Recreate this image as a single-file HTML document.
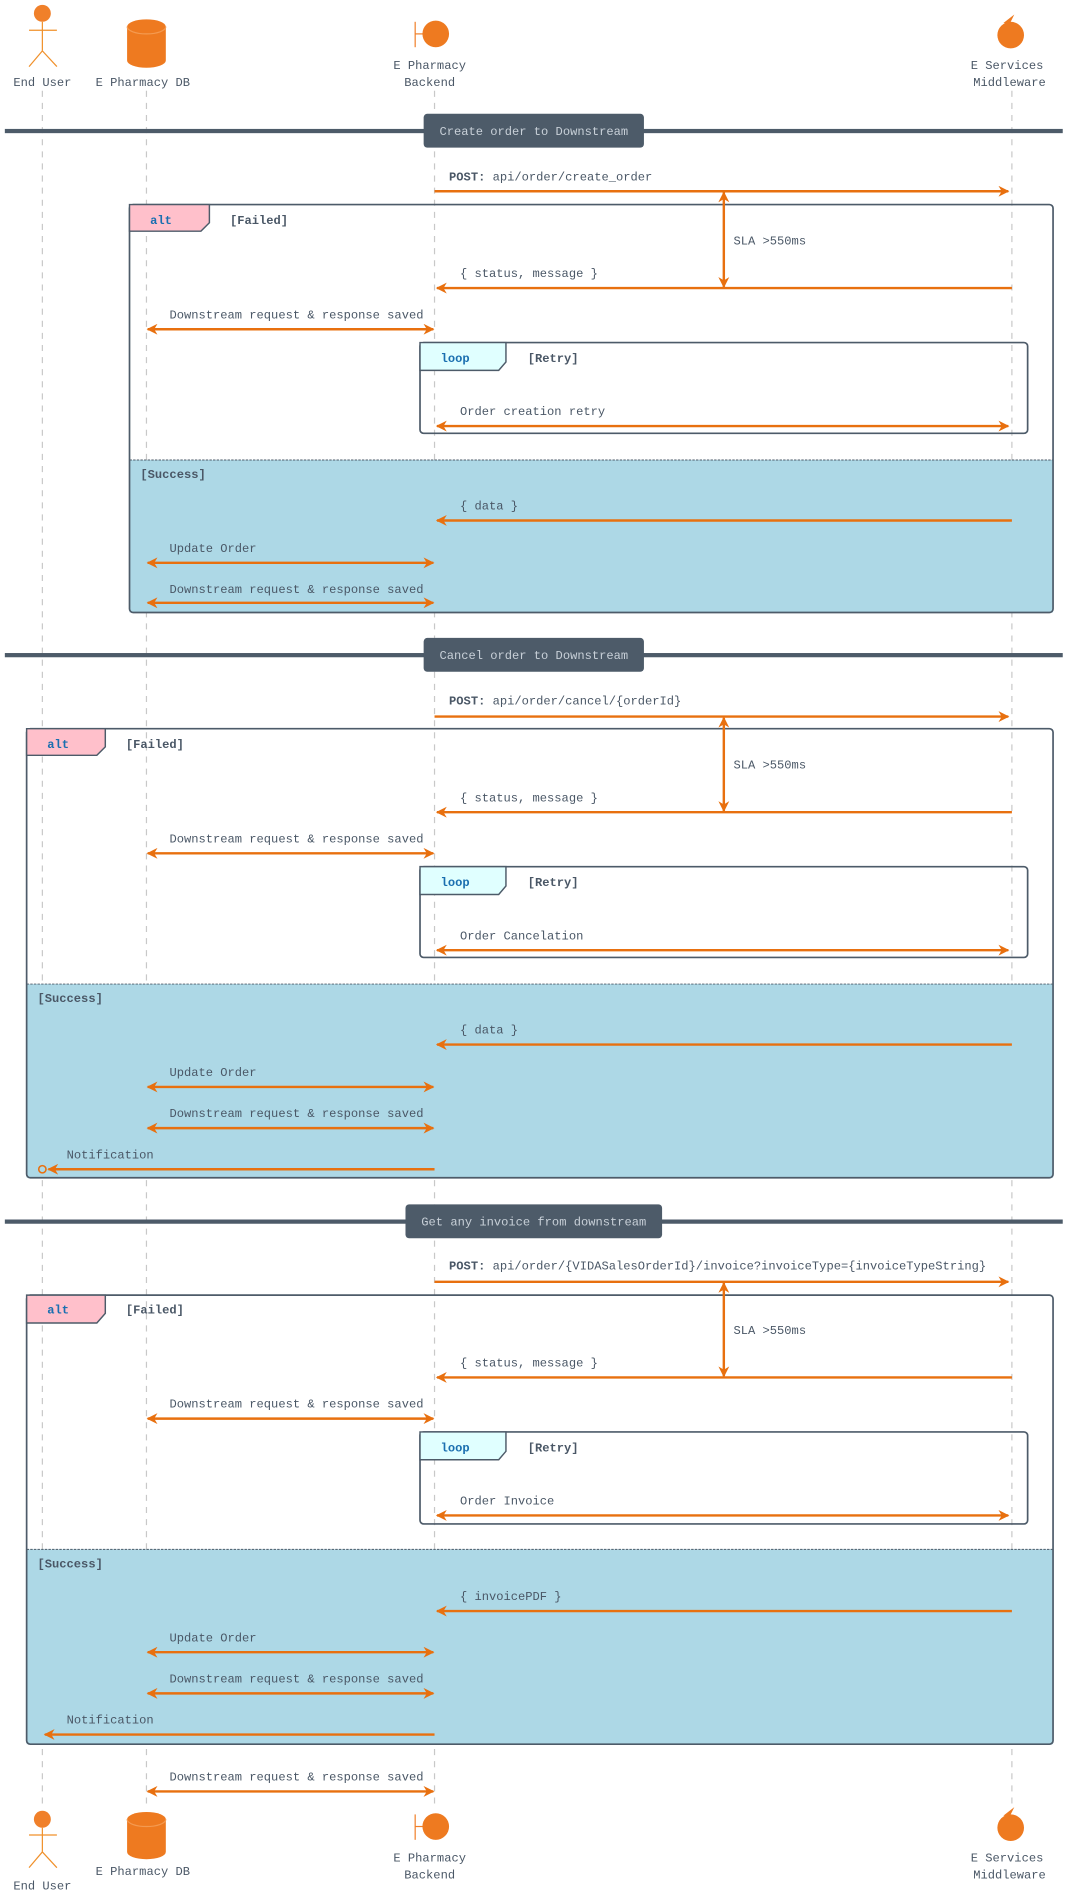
<!DOCTYPE html>
<html><head><meta charset="utf-8"><style>
html,body{margin:0;padding:0;background:#fff;}
svg{display:block;}
text{font-family:"Liberation Mono","DejaVu Sans Mono",monospace;font-size:10px;fill:#4a5766;}
.b{font-weight:bold;}
.ar{stroke:#e8700f;stroke-width:2;fill:none;}
.fr{fill:none;stroke:#4d5b69;stroke-width:1.4;}
.ll{stroke:#c8c8c8;stroke-width:1;stroke-dasharray:5,5;}
</style></head><body>
<svg width="1070" height="1900" viewBox="0 0 884 1569.7" xmlns="http://www.w3.org/2000/svg">
<defs>
<marker id="ah" viewBox="0 0 10 10" refX="9" refY="5" markerWidth="9" markerHeight="9" orient="auto-start-reverse" markerUnits="userSpaceOnUse">
<path d="M0,0 L10,5 L0,10 L3,5 z" fill="#e8700f"/>
</marker>
</defs>
<!-- lifelines -->
<line class="ll" x1="35" y1="75" x2="35" y2="1495"/>
<line class="ll" x1="121" y1="75" x2="121" y2="1495"/>
<line class="ll" x1="359" y1="75" x2="359" y2="1495"/>
<line class="ll" x1="836" y1="75" x2="836" y2="1495"/>

<!-- participants top -->
<circle cx="35" cy="11" r="7" fill="#f0802a"/>
<g stroke="#f0902a" stroke-width="1" fill="none"><line x1="35" y1="18" x2="35" y2="42"/><line x1="24" y1="25" x2="47" y2="25"/><line x1="35" y1="42" x2="24" y2="55"/><line x1="35" y1="42" x2="47" y2="55"/></g>
<text x="35" y="71" text-anchor="middle">End User</text>
<path d="M105,22 A16,6 0 0 1 137,22 L137,50 A16,6 0 0 1 105,50 Z" fill="#ee7a20"/>
<path d="M105,22 A16,6 0 0 0 137,22" fill="none" stroke="#f49a50" stroke-width="1"/>
<text x="118" y="71" text-anchor="middle">E Pharmacy DB</text>
<line x1="343" y1="18" x2="343" y2="39" stroke="#f0802a" stroke-width="1"/>
<line x1="343" y1="28" x2="350" y2="28" stroke="#f0802a" stroke-width="1"/>
<ellipse cx="360" cy="28" rx="11" ry="11" fill="#ee7a20"/>
<text x="355" y="57" text-anchor="middle">E Pharmacy</text>
<text x="355" y="71" text-anchor="middle">Backend</text>
<circle cx="835" cy="29" r="11" fill="#ee7a20"/>
<path d="M829,19 L838,12 L834,20 Z" fill="#ee7a20"/>
<text x="832" y="57" text-anchor="middle">E Services</text>
<text x="834" y="71" text-anchor="middle">Middleware</text>

<!-- ===== Section 1 ===== -->
<rect x="4" y="106.5" width="874" height="3.5" fill="#4d5b69"/>
<rect x="350" y="94" width="182" height="28" rx="3" fill="#4d5b69"/>
<text x="441" y="111.5" text-anchor="middle" style="fill:#c8d0d8">Create order to Downstream</text>

<text x="371" y="149"><tspan class="b">POST:</tspan> api/order/create_order</text>
<line class="ar" x1="359" y1="158" x2="833" y2="158" marker-end="url(#ah)"/>

<rect x="107" y="380" width="763" height="126" fill="#add8e6"/>
<line x1="107" y1="380" x2="870" y2="380" stroke="#4d5b69" stroke-width="0.8" stroke-dasharray="2,1"/>
<rect class="fr" x="107" y="169" width="763" height="337" rx="3"/>
<path d="M107,169 L173,169 L173,184 L166,191 L107,191 Z" fill="#ffc0cb" stroke="#4d5b69" stroke-width="1.2"/>
<text x="124" y="185" class="b" style="fill:#1a6fb0">alt</text>
<text x="190" y="185" class="b">[Failed]</text>
<line class="ar" x1="598" y1="159" x2="598" y2="237" marker-start="url(#ah)" marker-end="url(#ah)"/>
<text x="606" y="202">SLA &gt;550ms</text>
<text x="380" y="229">{ status, message }</text>
<line class="ar" x1="836" y1="238" x2="361" y2="238" marker-end="url(#ah)"/>
<text x="140" y="263">Downstream request &amp; response saved</text>
<line class="ar" x1="122" y1="272" x2="358" y2="272" marker-start="url(#ah)" marker-end="url(#ah)"/>
<rect class="fr" x="347" y="283" width="502" height="75" rx="3"/>
<path d="M347,283 L418,283 L418,299 L412,306 L347,306 Z" fill="#e0ffff" stroke="#4d5b69" stroke-width="1.2"/>
<text x="364" y="299" class="b" style="fill:#1a6fb0">loop</text>
<text x="436" y="299" class="b">[Retry]</text>
<text x="380" y="343">Order creation retry</text>
<line class="ar" x1="361" y1="352" x2="833" y2="352" marker-start="url(#ah)" marker-end="url(#ah)"/>
<text x="116" y="395" class="b">[Success]</text>
<text x="380" y="421">{ data }</text>
<line class="ar" x1="836" y1="430" x2="361" y2="430" marker-end="url(#ah)"/>
<text x="140" y="456">Update Order</text>
<line class="ar" x1="122" y1="465" x2="358" y2="465" marker-start="url(#ah)" marker-end="url(#ah)"/>
<text x="140" y="490">Downstream request &amp; response saved</text>
<line class="ar" x1="122" y1="498" x2="358" y2="498" marker-start="url(#ah)" marker-end="url(#ah)"/>

<!-- ===== Section 2 ===== -->
<rect x="4" y="539.5" width="874" height="3.5" fill="#4d5b69"/>
<rect x="350" y="527" width="182" height="28" rx="3" fill="#4d5b69"/>
<text x="441" y="544.5" text-anchor="middle" style="fill:#c8d0d8">Cancel order to Downstream</text>

<text x="371" y="582"><tspan class="b">POST:</tspan> api/order/cancel/{orderId}</text>
<line class="ar" x1="359" y1="592" x2="833" y2="592" marker-end="url(#ah)"/>

<rect x="22" y="813" width="848" height="160" fill="#add8e6"/>
<line x1="22" y1="813" x2="870" y2="813" stroke="#4d5b69" stroke-width="0.8" stroke-dasharray="2,1"/>
<rect class="fr" x="22" y="602" width="848" height="371" rx="3"/>
<path d="M22,602 L87,602 L87,617 L80,624 L22,624 Z" fill="#ffc0cb" stroke="#4d5b69" stroke-width="1.2"/>
<text x="39" y="618" class="b" style="fill:#1a6fb0">alt</text>
<text x="104" y="618" class="b">[Failed]</text>
<line class="ar" x1="598" y1="593" x2="598" y2="670" marker-start="url(#ah)" marker-end="url(#ah)"/>
<text x="606" y="635">SLA &gt;550ms</text>
<text x="380" y="662">{ status, message }</text>
<line class="ar" x1="836" y1="671" x2="361" y2="671" marker-end="url(#ah)"/>
<text x="140" y="696">Downstream request &amp; response saved</text>
<line class="ar" x1="122" y1="705" x2="358" y2="705" marker-start="url(#ah)" marker-end="url(#ah)"/>
<rect class="fr" x="347" y="716" width="502" height="75" rx="3"/>
<path d="M347,716 L418,716 L418,732 L412,739 L347,739 Z" fill="#e0ffff" stroke="#4d5b69" stroke-width="1.2"/>
<text x="364" y="732" class="b" style="fill:#1a6fb0">loop</text>
<text x="436" y="732" class="b">[Retry]</text>
<text x="380" y="776">Order Cancelation</text>
<line class="ar" x1="361" y1="785" x2="833" y2="785" marker-start="url(#ah)" marker-end="url(#ah)"/>
<text x="31" y="828" class="b">[Success]</text>
<text x="380" y="854">{ data }</text>
<line class="ar" x1="836" y1="863" x2="361" y2="863" marker-end="url(#ah)"/>
<text x="140" y="889">Update Order</text>
<line class="ar" x1="122" y1="898" x2="358" y2="898" marker-start="url(#ah)" marker-end="url(#ah)"/>
<text x="140" y="923">Downstream request &amp; response saved</text>
<line class="ar" x1="122" y1="932" x2="358" y2="932" marker-start="url(#ah)" marker-end="url(#ah)"/>
<text x="55" y="957">Notification</text>
<line class="ar" x1="359" y1="966" x2="40" y2="966" marker-end="url(#ah)"/>
<circle cx="35" cy="966" r="3" fill="none" stroke="#e8700f" stroke-width="1.3"/>

<!-- ===== Section 3 ===== -->
<rect x="4" y="1007.5" width="874" height="3.5" fill="#4d5b69"/>
<rect x="335" y="995" width="212" height="28" rx="3" fill="#4d5b69"/>
<text x="441" y="1012.5" text-anchor="middle" style="fill:#c8d0d8">Get any invoice from downstream</text>

<text x="371" y="1049"><tspan class="b">POST:</tspan> api/order/{VIDASalesOrderId}/invoice?invoiceType={invoiceTypeString}</text>
<line class="ar" x1="359" y1="1059" x2="833" y2="1059" marker-end="url(#ah)"/>

<rect x="22" y="1280" width="848" height="161" fill="#add8e6"/>
<line x1="22" y1="1280" x2="870" y2="1280" stroke="#4d5b69" stroke-width="0.8" stroke-dasharray="2,1"/>
<rect class="fr" x="22" y="1070" width="848" height="371" rx="3"/>
<path d="M22,1070 L87,1070 L87,1085 L80,1093 L22,1093 Z" fill="#ffc0cb" stroke="#4d5b69" stroke-width="1.2"/>
<text x="39" y="1085" class="b" style="fill:#1a6fb0">alt</text>
<text x="104" y="1085" class="b">[Failed]</text>
<line class="ar" x1="598" y1="1060" x2="598" y2="1137" marker-start="url(#ah)" marker-end="url(#ah)"/>
<text x="606" y="1102">SLA &gt;550ms</text>
<text x="380" y="1129">{ status, message }</text>
<line class="ar" x1="836" y1="1138" x2="361" y2="1138" marker-end="url(#ah)"/>
<text x="140" y="1163">Downstream request &amp; response saved</text>
<line class="ar" x1="122" y1="1172" x2="358" y2="1172" marker-start="url(#ah)" marker-end="url(#ah)"/>
<rect class="fr" x="347" y="1183" width="502" height="76" rx="3"/>
<path d="M347,1183 L418,1183 L418,1199 L412,1206 L347,1206 Z" fill="#e0ffff" stroke="#4d5b69" stroke-width="1.2"/>
<text x="364" y="1199" class="b" style="fill:#1a6fb0">loop</text>
<text x="436" y="1199" class="b">[Retry]</text>
<text x="380" y="1243">Order Invoice</text>
<line class="ar" x1="361" y1="1252" x2="833" y2="1252" marker-start="url(#ah)" marker-end="url(#ah)"/>
<text x="31" y="1295" class="b">[Success]</text>
<text x="380" y="1322">{ invoicePDF }</text>
<line class="ar" x1="836" y1="1331" x2="361" y2="1331" marker-end="url(#ah)"/>
<text x="140" y="1356">Update Order</text>
<line class="ar" x1="122" y1="1365" x2="358" y2="1365" marker-start="url(#ah)" marker-end="url(#ah)"/>
<text x="140" y="1390">Downstream request &amp; response saved</text>
<line class="ar" x1="122" y1="1399" x2="358" y2="1399" marker-start="url(#ah)" marker-end="url(#ah)"/>
<text x="55" y="1424">Notification</text>
<line class="ar" x1="359" y1="1433" x2="37" y2="1433" marker-end="url(#ah)"/>

<text x="140" y="1471">Downstream request &amp; response saved</text>
<line class="ar" x1="122" y1="1480" x2="358" y2="1480" marker-start="url(#ah)" marker-end="url(#ah)"/>

<!-- participants bottom -->
<circle cx="35" cy="1503" r="7" fill="#f0802a"/>
<g stroke="#f0902a" stroke-width="1" fill="none"><line x1="35" y1="1510" x2="35" y2="1530"/><line x1="24" y1="1516" x2="47" y2="1516"/><line x1="35" y1="1530" x2="24" y2="1543"/><line x1="35" y1="1530" x2="47" y2="1543"/></g>
<text x="35" y="1561" text-anchor="middle">End User</text>
<path d="M105,1503 A16,6 0 0 1 137,1503 L137,1530 A16,6 0 0 1 105,1530 Z" fill="#ee7a20"/>
<path d="M105,1503 A16,6 0 0 0 137,1503" fill="none" stroke="#f49a50" stroke-width="1"/>
<text x="118" y="1549" text-anchor="middle">E Pharmacy DB</text>
<line x1="343" y1="1499" x2="343" y2="1520" stroke="#f0802a" stroke-width="1"/>
<line x1="343" y1="1509" x2="350" y2="1509" stroke="#f0802a" stroke-width="1"/>
<circle cx="360" cy="1509" r="11" fill="#ee7a20"/>
<text x="355" y="1538" text-anchor="middle">E Pharmacy</text>
<text x="355" y="1552" text-anchor="middle">Backend</text>
<circle cx="835" cy="1510" r="11" fill="#ee7a20"/>
<path d="M829,1500 L838,1493 L834,1501 Z" fill="#ee7a20"/>
<text x="832" y="1538" text-anchor="middle">E Services</text>
<text x="834" y="1552" text-anchor="middle">Middleware</text>
</svg>
</body></html>
